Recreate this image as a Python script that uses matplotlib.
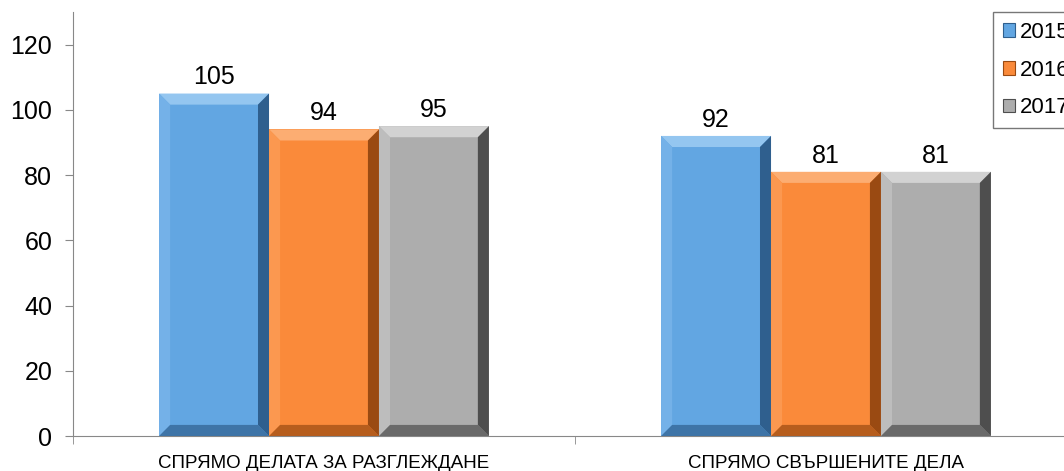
import numpy as np
import matplotlib
matplotlib.use('agg')
import matplotlib.pyplot as plt
from matplotlib.patches import Polygon, Patch

## Data
categories = ['СПРЯМО ДЕЛАТА ЗА РАЗГЛЕЖДАНЕ', 'СПРЯМО СВЪРШЕНИТЕ ДЕЛА']
years = ['2015', '2016', '2017']
vals_2015 = [105, 92]
vals_2016 = [94, 81]
vals_2017 = [95, 81]
series = [vals_2015, vals_2016, vals_2017]

# face, light (top), mid (left), dark (right/bottom)
shades = [
    ('#62A6E2', '#94C6F0', '#74B1E8', '#2F5F8E'),
    ('#FA8A3A', '#FCAD72', '#FB9850', '#9A4A12'),
    ('#ADADAD', '#D2D2D2', '#BDBDBD', '#4E4E4E'),
]

plt.rcParams['font.family'] = ['Liberation Sans', 'DejaVu Sans']

fig = plt.figure(figsize=(10.64, 4.71), dpi=100)
ax = fig.add_axes([73/1064, 35/471, 1004/1064, 424/471])

x = np.arange(len(categories))
w = 0.219
bx = 0.022   # bevel width in x (data units)
by = 3.4     # bevel height in y (data units)

for i, vals in enumerate(series):
    face, light, mid, dark = shades[i]
    bars = ax.bar(x + (i - 1) * w, vals, w, color=face, edgecolor='none', zorder=2)
    for b, v in zip(bars, vals):
        x0, x1 = b.get_x(), b.get_x() + b.get_width()
        y0, y1 = 0, v
        # top
        ax.add_patch(Polygon([(x0, y1), (x1, y1), (x1 - bx, y1 - by), (x0 + bx, y1 - by)],
                             closed=True, color=light, lw=0, zorder=3))
        # left
        ax.add_patch(Polygon([(x0, y0), (x0, y1), (x0 + bx, y1 - by), (x0 + bx, y0 + by)],
                             closed=True, color=mid, lw=0, zorder=3))
        # right
        ax.add_patch(Polygon([(x1, y0), (x1, y1), (x1 - bx, y1 - by), (x1 - bx, y0 + by)],
                             closed=True, color=dark, lw=0, zorder=3))
        # bottom
        ax.add_patch(Polygon([(x0, y0), (x1, y0), (x1 - bx, y0 + by), (x0 + bx, y0 + by)],
                             closed=True, color=dark, alpha=0.7, lw=0, zorder=3))
        ax.text(b.get_x() + b.get_width() / 2, v + 1.3, str(v), ha='center', va='bottom',
                fontsize=18, zorder=4)

ax.set_xlim(-0.5, 1.5)
ax.set_ylim(0, 130)
ax.set_yticks(range(0, 121, 20))
ax.tick_params(axis='y', labelsize=18, length=6, color='#888888', direction='out', pad=9)

ax.set_xticks(x)
ax.set_xticklabels(categories, fontsize=13.5)
ax.tick_params(axis='x', length=0, pad=14)
ax.set_xticks([-0.5, 0.5, 1.5], minor=True)
ax.tick_params(axis='x', which='minor', length=6, color='#888888', direction='out')

for s in ['top', 'right']:
    ax.spines[s].set_visible(False)
for s in ['left', 'bottom']:
    ax.spines[s].set_color('#888888')

handles = [Patch(facecolor=shades[i][0], edgecolor=shades[i][3], lw=0.8) for i in range(3)]
leg = fig.legend(handles, years, loc='upper left', bbox_to_anchor=(993/1064, 1 - 12/471),
                 fontsize=16, frameon=True, fancybox=False, edgecolor='#555555',
                 handlelength=0.55, handleheight=0.55, handletextpad=0.2,
                 labelspacing=0.75, borderpad=0.45, borderaxespad=0)
leg.get_frame().set_linewidth(1.0)

plt.savefig('out.png', dpi=100)
